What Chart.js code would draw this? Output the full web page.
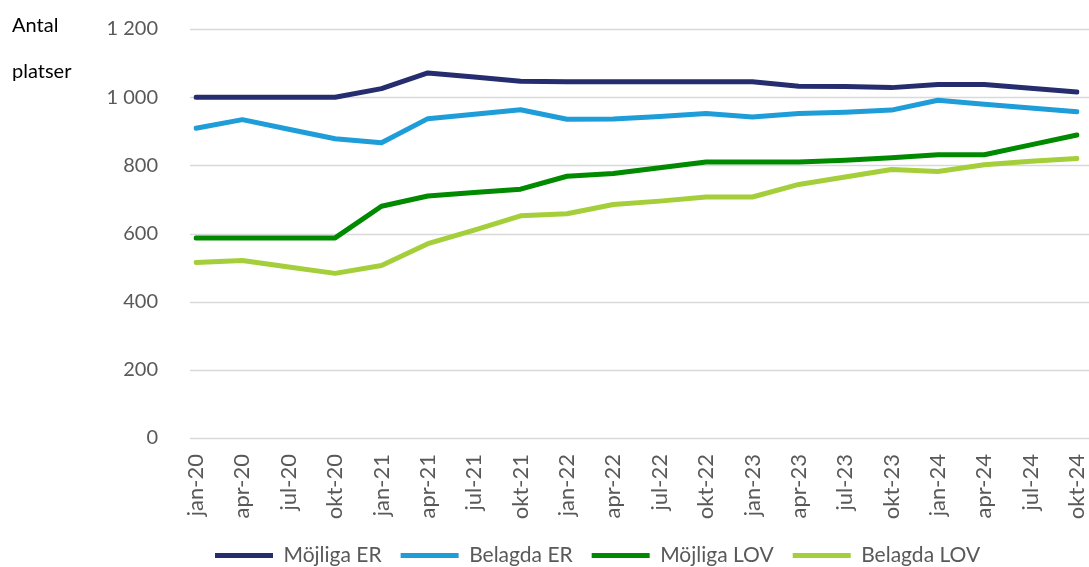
<!DOCTYPE html>
<html>
<head>
<meta charset="utf-8">
<script src="https://cdn.jsdelivr.net/npm/chart.js@4"></script>
<style>
  html, body { margin: 0; padding: 0; background: #fff; }
  #wrap { width: 1089px; height: 567px; }
</style>
</head>
<body>
<div id="wrap"><canvas id="platsChart"></canvas></div>
<script>
var labels = ['jan-20', 'apr-20', 'jul-20', 'okt-20', 'jan-21', 'apr-21', 'jul-21', 'okt-21',
  'jan-22', 'apr-22', 'jul-22', 'okt-22', 'jan-23', 'apr-23', 'jul-23', 'okt-23',
  'jan-24', 'apr-24', 'jul-24', 'okt-24'];

var mojligaER = [1000, 1000, 1000, 1000, 1025, 1071, 1059, 1047, 1045, 1045, 1045, 1045, 1045, 1032, 1031, 1028, 1037, 1037, 1026, 1015];
var belagdaER = [909, 934, 906, 878, 866, 937, 950, 963, 935, 936, 943, 952, 942, 952, 956, 962, 991, 979, 968, 957];
var mojligaLOV = [587, 587, 587, 587, 680, 710, 720, 730, 768, 776, 793, 810, 810, 810, 815, 822, 831, 831, 860, 889];
var belagdaLOV = [515, 521, 502, 483, 506, 570, 610, 652, 658, 685, 695, 707, 707, 744, 766, 788, 782, 802, 812, 820];

var textGrey = '#595959';
var fontFam = 'Lato, "Open Sans", sans-serif';

// horizontal gridlines drawn a little wider than the plot, like the original
var gridPlugin = {
  id: 'wideGrid',
  beforeDatasetsDraw: function(chart) {
    var ctx = chart.ctx, y = chart.scales.y;
    ctx.save();
    ctx.strokeStyle = '#d9d9d9';
    ctx.lineWidth = 1.5;
    y.ticks.forEach(function(t) {
      var py = Math.round(y.getPixelForValue(t.value)) + 0.5;
      ctx.beginPath();
      ctx.moveTo(chart.chartArea.left - 6, py);
      ctx.lineTo(chart.width, py);
      ctx.stroke();
    });
    ctx.restore();
  },
  afterDraw: function(chart) {
    var ctx = chart.ctx;
    ctx.save();
    ctx.fillStyle = '#000';
    ctx.font = '20px ' + fontFam;
    ctx.textBaseline = 'alphabetic';
    ctx.fillText('Antal', 12, 32);
    ctx.fillText('platser', 12, 78);
    ctx.restore();
  }
};

function mkSet(label, data, color) {
  return {
    label: label,
    data: data,
    borderColor: color,
    backgroundColor: color,
    borderWidth: 5,
    borderCapStyle: 'round',
    borderJoinStyle: 'round',
    pointRadius: 0,
    pointHoverRadius: 0,
    tension: 0,
    fill: false
  };
}

new Chart(document.getElementById('platsChart'), {
  type: 'line',
  data: {
    labels: labels,
    datasets: [
      mkSet('Möjliga ER', mojligaER, '#252d6e'),
      mkSet('Belagda ER', belagdaER, '#1f9dd9'),
      mkSet('Möjliga LOV', mojligaLOV, '#008a00'),
      mkSet('Belagda LOV', belagdaLOV, '#a5cf3a')
    ]
  },
  options: {
    responsive: true,
    maintainAspectRatio: false,
    animation: false,
    layout: { padding: { top: 29, right: 12, left: 0, bottom: -9 } },
    plugins: {
      legend: {
        position: 'bottom',
        fullSize: false,
        align: 'start',
        labels: {
          usePointStyle: true,
          pointStyle: 'line',
          pointStyleWidth: 58,
          padding: 19,
          color: textGrey,
          font: { family: fontFam, size: 21 }
        }
      },
      tooltip: { enabled: false }
    },
    scales: {
      y: {
        min: 0,
        max: 1200,
        grid: { display: false },
        border: { display: false },
        afterFit: function(s) { s.width = 196; s.paddingTop = 0; s.paddingBottom = 0; },
        ticks: {
          stepSize: 200,
          padding: 30,
          color: textGrey,
          font: { family: fontFam, size: 20 },
          callback: function(v) { return String(v).replace(/\B(?=(\d{3})+(?!\d))/g, ' '); }
        }
      },
      x: {
        offset: false,
        grid: { display: false },
        border: { display: false },
        afterFit: function(s) { s.height = 88; s.paddingLeft = 0; s.paddingRight = 0; },
        ticks: {
          minRotation: 90,
          maxRotation: 90,
          autoSkip: false,
          padding: 8,
          color: textGrey,
          font: { family: fontFam, size: 22 }
        }
      }
    }
  },
  plugins: [gridPlugin]
});
</script>
</body>
</html>
